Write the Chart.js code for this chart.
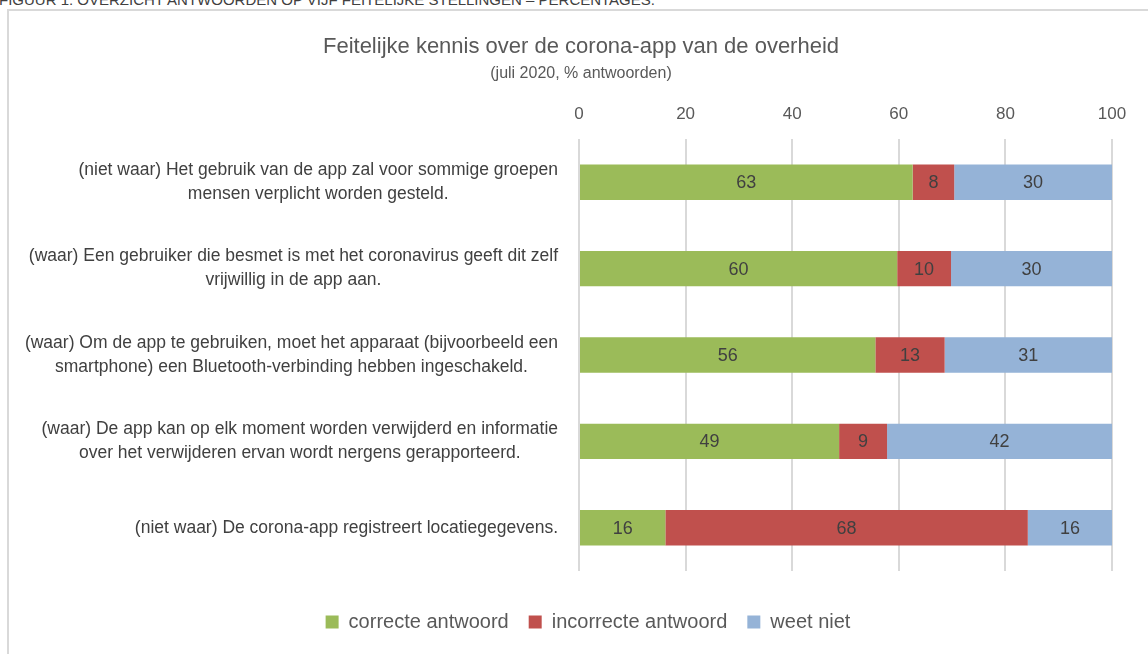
<!DOCTYPE html>
<html>
<head>
<meta charset="utf-8">
<script src="https://cdn.jsdelivr.net/npm/chart.js@4"></script>
<style>
  html, body { margin: 0; padding: 0; background: #fff; overflow: hidden; }
  #caption {
    position: absolute; left: -1px; top: -9px;
    font-family: 'Liberation Sans Narrow', 'Arial Narrow', 'Liberation Sans', sans-serif;
    font-size: 15px; color: #404040; white-space: nowrap;
  }
  #frame {
    position: absolute; left: 7px; top: 9px; width: 1200px; height: 700px;
    border: 2px solid #d9d9d9; box-sizing: border-box;
  }
  #wrap { position: absolute; left: 0; top: 0; width: 1148px; height: 654px; }
</style>
</head>
<body>
<div id="caption">FIGUUR 1: OVERZICHT ANTWOORDEN OP VIJF FEITELIJKE STELLINGEN – PERCENTAGES.</div>
<div id="frame"></div>
<div id="wrap"><canvas id="chart"></canvas></div>
<script>
const FONT = "'Liberation Sans Narrow', 'Arial Narrow', 'Liberation Sans', sans-serif";

const categories = [
  ["(niet waar) Het gebruik van de app zal voor sommige groepen", "mensen verplicht worden gesteld."],
  ["(waar) Een gebruiker die besmet is met het coronavirus geeft dit zelf", "vrijwillig in de app aan."],
  ["(waar) Om de app te gebruiken, moet het apparaat (bijvoorbeeld een", "smartphone) een Bluetooth-verbinding hebben ingeschakeld."],
  ["(waar) De app kan op elk moment worden verwijderd en informatie", "over het verwijderen ervan wordt nergens gerapporteerd."],
  ["(niet waar) De corona-app registreert locatiegegevens."]
];
const seriesNames = ["correcte antwoord", "incorrecte antwoord", "weet niet"];
const correct = [62.6, 59.7, 55.6, 48.8, 16.2];
const incorrect = [7.8, 10.1, 13.0, 9.0, 68.0];
const dontKnow = [29.6, 30.2, 31.4, 42.2, 15.8];
const xTicks = [0, 20, 40, 60, 80, 100];

const colors = ['#9BBB59', '#C0504D', '#95B3D7'];

// category labels: block right aligned, lines centred inside the block
const yLabels = {
  id: 'yLabels',
  afterDraw(chart) {
    const ctx = chart.ctx;
    const y = chart.scales.y;
    const lineH = 24;
    ctx.save();
    ctx.font = "17.5px " + FONT;
    ctx.fillStyle = '#404040';
    ctx.textAlign = 'center';
    ctx.textBaseline = 'middle';
    categories.forEach((lines, i) => {
      const cy = y.getPixelForTick(i);
      const w = Math.max(...lines.map(l => ctx.measureText(l).width));
      const cx = chart.chartArea.left - 21 - w / 2;
      lines.forEach((line, k) => {
        ctx.fillText(line, cx, cy + (k - (lines.length - 1) / 2) * lineH);
      });
    });
    ctx.restore();
  }
};

const barValues = {
  id: 'barValues',
  afterDatasetsDraw(chart) {
    const ctx = chart.ctx;
    ctx.save();
    ctx.font = "18px " + FONT;
    ctx.fillStyle = '#404040';
    ctx.textAlign = 'center';
    ctx.textBaseline = 'middle';
    chart.data.datasets.forEach((ds, di) => {
      chart.getDatasetMeta(di).data.forEach((bar, i) => {
        const p = bar.getCenterPoint();
        ctx.fillText(Math.round(ds.data[i]), p.x, p.y + 1);
      });
    });
    ctx.restore();
  }
};

// the legend sits a little right of the title centre
const legendShift = {
  id: 'legendShift',
  afterLayout(chart) {
    chart.legend.left += 7;
    chart.legend.right += 7;
  }
};

new Chart(document.getElementById('chart'), {
  type: 'bar',
  data: {
    labels: categories,
    datasets: [
      { label: seriesNames[0], data: correct, backgroundColor: colors[0] },
      { label: seriesNames[1], data: incorrect, backgroundColor: colors[1] },
      { label: seriesNames[2], data: dontKnow, backgroundColor: colors[2] }
    ]
  },
  options: {
    indexAxis: 'y',
    responsive: true,
    maintainAspectRatio: false,
    animation: false,
    datasets: { bar: { categoryPercentage: 1, barPercentage: 0.41 } },
    layout: { padding: { left: 50, right: 36, top: 0, bottom: 12 } },
    scales: {
      x: {
        position: 'top',
        stacked: true,
        min: 0,
        max: 100,
        afterBuildTicks(scale) { scale.ticks = xTicks.map(v => ({ value: v })); },
        ticks: { color: '#595959', padding: 14, font: { family: FONT, size: 17, lineHeight: 1.2 } },
        grid: { color: '#d9d9d9', lineWidth: 2, drawTicks: false },
        border: { display: false }
      },
      y: {
        stacked: true,
        ticks: { display: false },
        grid: { display: false },
        border: { display: false },
        afterFit(scale) { scale.width = 529; }
      }
    },
    plugins: {
      title: {
        display: true,
        text: 'Feitelijke kennis over de corona-app van de overheid',
        color: '#595959',
        font: { family: FONT, size: 22, weight: 'normal', lineHeight: 1.2 },
        padding: { top: 34, bottom: 0 }
      },
      subtitle: {
        display: true,
        text: '(juli 2020, % antwoorden)',
        color: '#595959',
        font: { family: FONT, size: 16, lineHeight: 1.2 },
        padding: { top: 4, bottom: 7 }
      },
      legend: {
        position: 'bottom',
        title: { display: true, text: ' ', padding: 0, font: { size: 21, lineHeight: 1 } },
        labels: {
          color: '#595959',
          boxWidth: 13,
          boxHeight: 13,
          padding: 20,
          font: { family: FONT, size: 20 }
        }
      },
      tooltip: { enabled: false }
    }
  },
  plugins: [yLabels, barValues, legendShift]
});
</script>
</body>
</html>
